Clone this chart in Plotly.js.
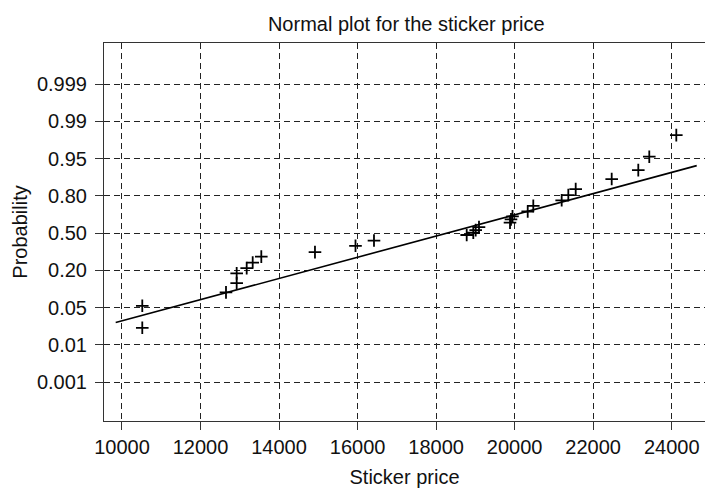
<!DOCTYPE html>
<html>
<head>
<meta charset="utf-8">
<script src="https://cdn.plot.ly/plotly-3.0.1.min.js"></script>
<style>
  html, body { margin: 0; padding: 0; background: #fff; }
  #chart { width: 705px; height: 488px; }
</style>
</head>
<body>
<div id="chart"></div>
<script>
// Sticker prices (observed) and their plotted position on the probability scale
// (position in tick-index units: 0 -> 0.001, 1 -> 0.01, ..., 8 -> 0.999)
var stickerPrice = [10517, 10517, 12649, 12921, 12921, 13176, 13329, 13548, 14915, 15947,
                    16418, 18779, 18947, 19008, 19092, 19882, 19907, 19946, 20333, 20475,
                    21198, 21367, 21555, 22472, 23149, 23429, 24117];
var probPosition = [1.46, 2.05, 2.41, 2.66, 2.92, 3.06, 3.21, 3.37, 3.49, 3.66,
                    3.80, 3.95, 4.01, 4.08, 4.16, 4.28, 4.37, 4.45, 4.58, 4.73,
                    4.88, 5.02, 5.18, 5.45, 5.69, 6.05, 6.63];

// Reference (fitted normal) line end points
var fitPrice = [9840, 24637];
var fitPosition = [1.60, 5.81];

// Probability axis tick labels (equally spaced)
var probTickPos = [0, 1, 2, 3, 4, 5, 6, 7, 8];
var probTickText = ['0.001', '0.01', '0.05', '0.20', '0.50', '0.80', '0.95', '0.99', '0.999'];

// Price axis ticks
var priceTicks = [10000, 12000, 14000, 16000, 18000, 20000, 22000, 24000];

var font = "'Liberation Sans', Arial, Helvetica, sans-serif";
var fs = 20;

var traces = [
  {
    x: fitPrice, y: fitPosition,
    type: 'scatter', mode: 'lines',
    line: { color: '#000', width: 1.6 },
    hoverinfo: 'skip', showlegend: false
  },
  {
    x: stickerPrice, y: probPosition,
    type: 'scatter', mode: 'markers',
    marker: { symbol: 'cross-thin', size: 9, color: '#000', line: { color: '#000', width: 1.8 } },
    showlegend: false
  }
];

var gridStyle = { color: '#222', width: 1, dash: '6px,4px' };

var layout = {
  width: 705, height: 488,
  margin: { l: 104, r: 0, t: 43, b: 67 },
  paper_bgcolor: '#fff', plot_bgcolor: '#fff',
  font: { family: font, size: fs, color: '#111' },
  title: {
    text: 'Normal plot for the sticker price',
    font: { family: font, size: fs, color: '#111' },
    x: 0.503, xanchor: 'center', xref: 'paper',
    y: 0.951, yanchor: 'middle', yref: 'container'
  },
  xaxis: {
    range: [9542, 24848],
    tickvals: priceTicks,
    ticktext: priceTicks.map(String),
    ticks: 'outside', ticklen: 8, tickwidth: 1, tickcolor: '#333',
    showline: true, linecolor: '#333', linewidth: 1, mirror: true,
    showgrid: true, gridcolor: gridStyle.color, gridwidth: gridStyle.width, griddash: gridStyle.dash,
    zeroline: false,
    tickfont: { family: font, size: fs, color: '#111' },
    title: { text: 'Sticker price', font: { family: font, size: fs, color: '#111' }, standoff: 12 }
  },
  yaxis: {
    range: [-1.04, 9.1],
    tickvals: probTickPos,
    ticktext: probTickText,
    ticks: 'outside', ticklen: 8, tickwidth: 1, tickcolor: '#333',
    ticklabelstandoff: 4,
    showline: true, linecolor: '#333', linewidth: 1, mirror: true,
    showgrid: true, gridcolor: gridStyle.color, gridwidth: gridStyle.width, griddash: gridStyle.dash,
    zeroline: false,
    tickfont: { family: font, size: fs, color: '#111' },
    title: { text: 'Probability', font: { family: font, size: fs, color: '#111' }, standoff: 3 }
  }
};

Plotly.newPlot('chart', traces, layout, { displayModeBar: false, staticPlot: true });
</script>
</body>
</html>
